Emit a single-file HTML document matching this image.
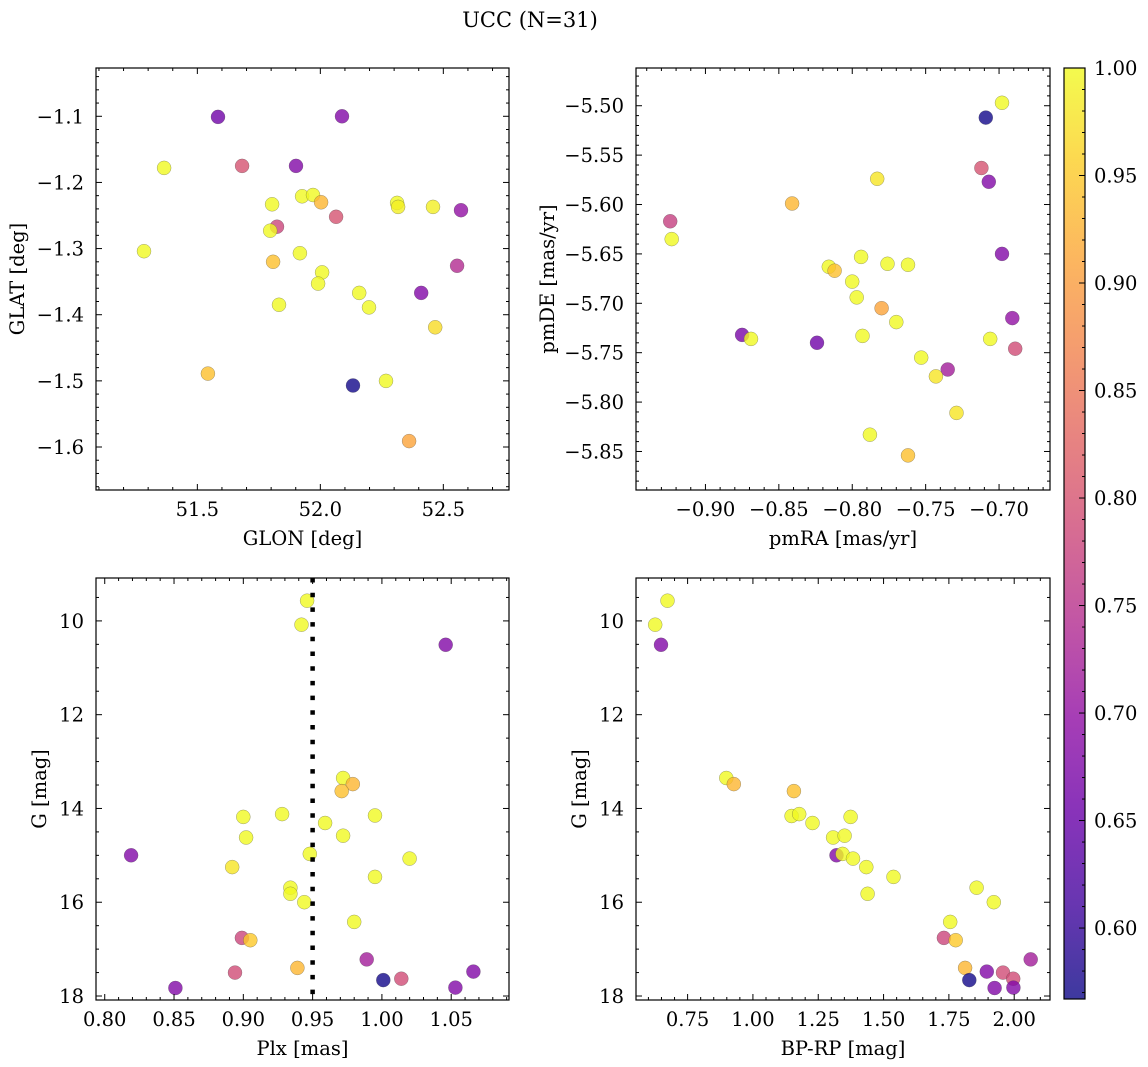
<!DOCTYPE html>
<html><head><meta charset="utf-8"><style>
html,body{margin:0;padding:0;background:#fff;}
svg{display:block;font-family:"DejaVu Serif","Liberation Serif",serif;}
</style></head><body>
<svg id="fig" width="1148" height="1067" viewBox="0 0 1148 1067" xmlns="http://www.w3.org/2000/svg">
<rect width="1148" height="1067" fill="#fff"/>
<text x="530" y="27" font-size="21" text-anchor="middle">UCC (N=31)</text>
</svg>
<script>
// Panel 1: GLON / GLAT
const glon = [51.584,52.088,51.365,51.682,51.901,51.926,51.970,52.003,51.804,52.312,52.316,52.458,52.572,52.064,51.824,51.796,51.283,51.917,51.808,52.556,52.007,51.991,52.158,52.410,52.198,51.832,52.467,51.543,52.133,52.267,52.361];
const glat = [-1.101,-1.100,-1.178,-1.175,-1.175,-1.221,-1.219,-1.230,-1.233,-1.231,-1.237,-1.237,-1.242,-1.252,-1.267,-1.273,-1.304,-1.307,-1.320,-1.326,-1.336,-1.353,-1.367,-1.367,-1.389,-1.385,-1.419,-1.489,-1.507,-1.500,-1.591];
const prob1 = [0.66,0.68,1.0,0.80,0.68,1.0,1.0,0.93,1.0,1.0,0.99,0.99,0.70,0.80,0.78,1.0,1.0,1.0,0.94,0.74,1.0,1.0,1.0,0.68,1.0,1.0,0.97,0.94,0.57,1.0,0.91];
// Panel 2: pmRA / pmDE
const pmra = [-0.698,-0.709,-0.712,-0.707,-0.783,-0.841,-0.924,-0.923,-0.698,-0.794,-0.816,-0.812,-0.776,-0.762,-0.800,-0.797,-0.780,-0.770,-0.691,-0.875,-0.869,-0.824,-0.793,-0.706,-0.689,-0.753,-0.735,-0.743,-0.729,-0.788,-0.762];
const pmde = [-5.497,-5.512,-5.563,-5.577,-5.574,-5.599,-5.617,-5.635,-5.650,-5.653,-5.663,-5.667,-5.660,-5.661,-5.678,-5.694,-5.705,-5.719,-5.715,-5.732,-5.736,-5.740,-5.733,-5.736,-5.746,-5.755,-5.767,-5.774,-5.811,-5.833,-5.854];
const prob2 = [1.0,0.57,0.80,0.68,0.98,0.93,0.77,1.0,0.68,1.0,1.0,0.94,1.0,1.0,1.0,1.0,0.91,1.0,0.70,0.67,1.0,0.66,1.0,1.0,0.79,1.0,0.72,0.98,0.98,1.0,0.94];
// Panels 3 & 4: stars (Plx, BP-RP, G)
const plx = [0.946,0.942,1.046,0.972,0.979,0.971,0.900,0.928,0.995,0.959,0.902,0.972,0.819,0.948,1.020,0.892,0.995,0.934,0.934,0.944,0.980,0.899,0.905,0.989,0.894,0.939,1.066,1.001,1.014,0.851,1.053];
const gmag = [9.57,10.08,10.51,13.35,13.48,13.63,14.18,14.12,14.15,14.31,14.62,14.58,15.00,14.97,15.07,15.25,15.46,15.69,15.82,16.00,16.42,16.76,16.81,17.22,17.50,17.40,17.48,17.66,17.63,17.83,17.82];
const prob3 = [1.0,1.0,0.68,1.0,0.93,0.94,1.0,1.0,1.0,1.0,1.0,1.0,0.68,1.0,1.0,0.98,1.0,1.0,1.0,1.0,1.0,0.78,0.95,0.72,0.79,0.93,0.68,0.57,0.79,0.68,0.68];
const bprp = [0.673,0.626,0.648,0.898,0.927,1.157,1.148,1.177,1.228,1.374,1.307,1.351,1.320,1.343,1.383,1.434,1.538,1.856,1.439,1.922,1.755,1.731,1.776,2.063,1.812,1.895,1.957,1.828,1.996,1.925,1.997];
const gmag4 = [9.57,10.08,10.51,13.35,13.48,13.63,14.16,14.12,14.31,14.18,14.62,14.58,15.00,14.97,15.07,15.25,15.46,15.69,15.82,16.00,16.42,16.76,16.81,17.22,17.40,17.48,17.50,17.66,17.63,17.83,17.82];
const prob4 = [1.0,1.0,0.68,1.0,0.93,0.94,1.0,1.0,1.0,1.0,1.0,1.0,0.68,1.0,1.0,1.0,1.0,1.0,1.0,1.0,1.0,0.78,0.95,0.72,0.93,0.68,0.79,0.57,0.79,0.68,0.68];
const plxLine = 0.95;
const cbTicks = [0.60,0.65,0.70,0.75,0.80,0.85,0.90,0.95,1.00];
const vmin = 0.567, vmax = 1.0;

const NS = "http://www.w3.org/2000/svg";
const svg = document.getElementById('fig');
const FS = 19.5;
function mk(tag, attrs, parent){const e=document.createElementNS(NS,tag);for(const k in attrs)e.setAttribute(k,attrs[k]);(parent||svg).appendChild(e);return e;}

const plasma = [[13,8,135],[65,4,157],[106,0,168],[143,13,164],[177,42,144],[204,71,120],[225,100,98],[242,132,75],[252,166,54],[252,206,37],[240,249,33]];
function cmap(t){t=Math.max(0,Math.min(1,t));const f=t*10,i=Math.min(9,Math.floor(f)),r=f-i;const a=plasma[i],b=plasma[i+1];return `rgb(${Math.round(a[0]+(b[0]-a[0])*r)},${Math.round(a[1]+(b[1]-a[1])*r)},${Math.round(a[2]+(b[2]-a[2])*r)})`;}
function fmt(v,d){const s=Math.abs(v).toFixed(d);return (v< -1e-9?'\u2212':'')+s;}

function panel(o){
  const g=mk('g',{});
  
  
  const sx=v=>o.x0+(v-o.xmin)/(o.xmax-o.xmin)*(o.x1-o.x0);
  const sy=v=>o.inv? o.y0+(v-o.ymin)/(o.ymax-o.ymin)*(o.y1-o.y0) : o.y1-(v-o.ymin)/(o.ymax-o.ymin)*(o.y1-o.y0);
  for(let i=0;i<o.xs.length;i++){
    const c=mk('circle',{cx:sx(o.xs[i]).toFixed(1),cy:sy(o.ys[i]).toFixed(1),r:7,fill:cmap((o.ps[i]-vmin)/(vmax-vmin)),'fill-opacity':0.8,stroke:'#444','stroke-opacity':0.5,'stroke-width':0.5},g);
    
    
  }
  if(o.vline!==undefined){
    const l=mk('line',{x1:sx(o.vline),x2:sx(o.vline),y1:o.y0,y2:o.y1,stroke:'#000','stroke-width':4.5,'stroke-dasharray':'4.5 10.2'},g);
    
    
  }
  const fr=mk('rect',{x:o.x0,y:o.y0,width:o.x1-o.x0,height:o.y1-o.y0,fill:'none',stroke:'#000','stroke-width':1.2},g);
  
  
  const eps=1e-9;
  for(let v=Math.ceil(o.xmin/o.xminor-eps)*o.xminor; v<=o.xmax+eps; v+=o.xminor){
    const X=sx(v); const isMaj=Math.abs(v/o.xmajor-Math.round(v/o.xmajor))<1e-6; const L=isMaj?6:3;
    mk('line',{x1:X,x2:X,y1:o.y1,y2:o.y1-L,stroke:'#000','stroke-width':1},g);
    mk('line',{x1:X,x2:X,y1:o.y0,y2:o.y0+L,stroke:'#000','stroke-width':1},g);
    if(isMaj){const t=mk('text',{x:X,y:o.y1+26,'font-size':FS,'text-anchor':'middle'},g);t.textContent=fmt(v,o.xd);
      
      }
  }
  for(let v=Math.ceil(o.ymin/o.yminor-eps)*o.yminor; v<=o.ymax+eps; v+=o.yminor){
    const Y=sy(v); const isMaj=Math.abs(v/o.ymajor-Math.round(v/o.ymajor))<1e-6; const L=isMaj?6:3;
    mk('line',{x1:o.x0,x2:o.x0+L,y1:Y,y2:Y,stroke:'#000','stroke-width':1},g);
    mk('line',{x1:o.x1,x2:o.x1-L,y1:Y,y2:Y,stroke:'#000','stroke-width':1},g);
    if(isMaj){const t=mk('text',{x:o.x0-12,y:Y+7,'font-size':FS,'text-anchor':'end'},g);t.textContent=fmt(v,o.yd);
      
      }
  }
  const xl=mk('text',{x:(o.x0+o.x1)/2,y:o.y1+55,'font-size':FS,'text-anchor':'middle'},g);xl.textContent=o.xlabel;
  
  
  const yc=(o.y0+o.y1)/2;
  const yl=mk('text',{x:o.ylx,y:yc,'font-size':FS,'text-anchor':'middle',transform:`rotate(-90 ${o.ylx} ${yc})`},g);yl.textContent=o.ylabel;
  
  
}

panel({name:'glon-glat-panel',x0:96,x1:509,y0:68,y1:490,xmin:51.088,xmax:52.767,ymin:-1.665,ymax:-1.027,xs:glon,ys:glat,ps:prob1,xmajor:0.5,xminor:0.1,ymajor:0.1,yminor:0.02,xd:1,yd:1,xlabel:'GLON [deg]',ylabel:'GLAT [deg]',ylx:24});
panel({name:'pm-panel',x0:636,x1:1050,y0:68,y1:490,xmin:-0.9473,xmax:-0.6653,ymin:-5.889,ymax:-5.4618,xs:pmra,ys:pmde,ps:prob2,xmajor:0.05,xminor:0.01,ymajor:0.05,yminor:0.01,xd:2,yd:2,xlabel:'pmRA [mas/yr]',ylabel:'pmDE [mas/yr]',ylx:554});
panel({name:'plx-g-panel',x0:96,x1:509,y0:578,y1:1000,xmin:0.7937,xmax:1.0917,ymin:9.085,ymax:18.085,inv:true,xs:plx,ys:gmag,ps:prob3,xmajor:0.05,xminor:0.01,ymajor:2,yminor:0.5,xd:2,yd:0,xlabel:'Plx [mas]',ylabel:'G [mag]',ylx:46,vline:plxLine});
panel({name:'cmd-panel',x0:636,x1:1050,y0:578,y1:1000,xmin:0.5525,xmax:2.137,ymin:9.085,ymax:18.085,inv:true,xs:bprp,ys:gmag4,ps:prob4,xmajor:0.25,xminor:0.05,ymajor:2,yminor:0.5,xd:2,yd:0,xlabel:'BP-RP [mag]',ylabel:'G [mag]',ylx:586});

const cb=mk('g',{});


const cbx0=1064,cbx1=1085,cby0=68,cby1=999;
const defs=mk('defs',{});
const grad=mk('linearGradient',{id:'pl',x1:0,y1:1,x2:0,y2:0},defs);
for(let k=0;k<=20;k++){const t=k/20;mk('stop',{offset:t,'stop-color':cmap(t)},grad);}
mk('rect',{x:cbx0,y:cby0,width:cbx1-cbx0,height:cby1-cby0,fill:'url(#pl)','fill-opacity':0.8},cb);
mk('rect',{x:cbx0,y:cby0,width:cbx1-cbx0,height:cby1-cby0,fill:'none',stroke:'#000','stroke-width':1.2},cb);
const cy=v=>cby1-(v-vmin)/(vmax-vmin)*(cby1-cby0);
for(let k=57;k<=100;k++){const v=k/100;if(v<vmin-1e-9)continue;const Y=cy(v);const maj=k%5===0;
  mk('line',{x1:cbx1,x2:cbx1-(maj?6:3),y1:Y,y2:Y,stroke:'#000','stroke-width':1},cb);}
for(const v of cbTicks){const t=mk('text',{x:1094,y:cy(v)+7,'font-size':FS},cb);t.textContent=v.toFixed(2);
  
  }
</script>
</body></html>
